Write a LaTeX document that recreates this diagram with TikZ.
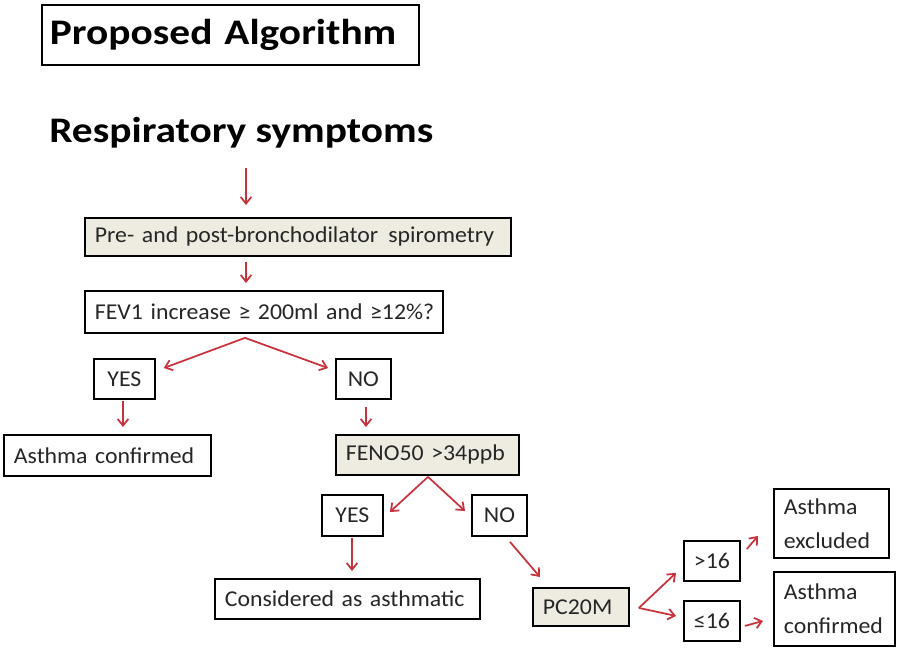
\documentclass[tikz,border=0pt]{standalone}
\usepackage{fontspec}
\setmainfont[FakeStretch=1.05,WordSpace=0.7]{Carlito}
\newfontfamily\titlefam[FakeStretch=1.15]{Carlito}
\usetikzlibrary{arrows.meta,calc}
\definecolor{beige}{HTML}{EEECE1}
\definecolor{arrred}{RGB}{200,50,60}
\definecolor{txt}{HTML}{262626}
\newcommand{\bodyfnt}{\fontsize{17}{25.5}\selectfont}
\newcommand{\bigfnt}{\titlefam\fontsize{27}{32}\selectfont\bfseries}
\begin{document}
\begin{tikzpicture}[x=0.75pt,y=-0.75pt,
  bx/.style={draw=black, line width=1.4pt, rectangle, anchor=north west,
    inner xsep=7.5pt, inner ysep=0pt, font=\bodyfnt, text=txt, align=left},
  sbx/.style={draw=black, line width=1.4pt, rectangle, anchor=north west,
    inner sep=0pt, font=\bodyfnt, text=txt, align=center},
  tan/.style={fill=beige},
  arr/.style={draw=arrred, line width=1.3pt, -{Straight Barb[length=5pt,width=8pt]}}]
\useasboundingbox[fill=white] (0,0) rectangle (897,647);

\node[bx, font=\bigfnt, text=black, inner xsep=6pt, text width=270.75pt, minimum height=45pt] (title) at (41,4) {Proposed Algorithm};
\node[anchor=base west, inner sep=0pt, font=\bigfnt] (resp) at (49,142) {Respiratory symptoms};

\node[bx, tan, text width=304.5pt, minimum height=28.5pt] (pre) at (84,217) {\mbox{Pre- and post-bronchodilator\hspace{2pt} spirometry}};
\node[bx, text width=253.5pt, minimum height=31.5pt] (fev) at (84,290) {\mbox{FEV1 increase ≥ 200ml and ≥12\%?}};
\node[sbx, minimum width=45.75pt, minimum height=30pt] (yes1) at (93,358) {YES};
\node[sbx, minimum width=41.25pt, minimum height=30pt] (no1) at (335,358) {NO};
\node[bx, text width=140.25pt, minimum height=30.75pt] (ac1) at (3,434) {Asthma confirmed};
\node[bx, tan, text width=122.25pt, minimum height=30pt] (feno) at (335,434) {FENO50 >34ppb};
\node[sbx, minimum width=45.75pt, minimum height=30.75pt] (yes2) at (321,494) {YES};
\node[sbx, minimum width=41.25pt, minimum height=30.75pt] (no2) at (471,494) {NO};
\node[bx, text width=183.75pt, minimum height=30pt] (cons) at (214,578) {Considered as asthmatic};
\node[bx, tan, text width=57pt, minimum height=28.5pt] (pc) at (532,587) {PC20M};
\node[sbx, minimum width=42pt, minimum height=30pt] (gt) at (683,540) {>16};
\node[sbx, minimum width=42pt, minimum height=30pt] (le) at (683,600) {≤16};
\node[bx, text width=71.25pt, minimum height=51.75pt] (aex) at (773,488) {Asthma\\excluded};
\node[bx, text width=75.75pt, minimum height=55.5pt] (ac2) at (773,571) {Asthma\\confirmed};

\draw[arr] ($(resp.base west)+(197,26)$) -- ($(pre.north west)+(162,-12)$);
\draw[arr] ($(pre.south west)+(162,5)$) -- ($(fev.north west)+(162,-7)$);
\draw[arr] ($(fev.south west)+(161,4)$) -- ($(yes1.north east)+(8,10)$);
\draw[arr] ($(fev.south west)+(161,4)$) -- ($(no1.north west)+(-7,10)$);
\draw[arr] ($(yes1.south west)+(30,1)$) -- ($(ac1.north west)+(120,-7)$);
\draw[arr] ($(no1.south west)+(31,7)$) -- ($(feno.north west)+(31,-7)$);
\draw[arr] ($(feno.south west)+(93,1)$) -- ($(yes2.north east)+(6,18)$);
\draw[arr] ($(feno.south west)+(93,1)$) -- ($(no2.north west)+(-6,17)$);
\draw[arr] ($(yes2.south west)+(31,1)$) -- ($(cons.north west)+(138,-7)$);
\draw[arr] ($(no2.south west)+(39,5)$) -- ($(pc.north west)+(8,-10)$);
\draw[arr] ($(pc.east)+(9,1)$) -- ($(gt.west)+(-7,12)$);
\draw[arr] ($(pc.east)+(9,1)$) -- ($(le.west)+(-7,-5)$);
\draw[arr] ($(gt.east)+(6,-12)$) -- ($(aex.west)+(-15,12.5)$);
\draw[arr] ($(le.east)+(4,5)$) -- ($(ac2.west)+(-10,12)$);
\end{tikzpicture}
\end{document}
